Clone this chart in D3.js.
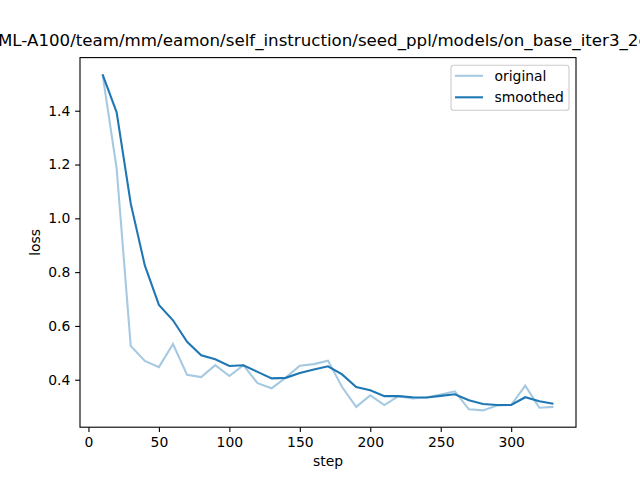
<!DOCTYPE html>
<html><head><meta charset="utf-8">
<script src="https://cdn.jsdelivr.net/npm/d3@7"></script>
<style>body{margin:0;background:#fff}svg{display:block;font-family:"DejaVu Sans",sans-serif}</style>
</head><body>
<svg id="c" width="640" height="480"></svg>
<script>
const steps = [10,20,30,40,50,60,70,80,90,100,110,120,130,140,150,160,170,180,190,200,210,220,230,240,250,260,270,280,290,300,310,320,330];
const original = [1.535,1.186,0.526,0.470,0.447,0.533,0.418,0.410,0.454,0.414,0.454,0.387,0.368,0.408,0.452,0.458,0.471,0.373,0.299,0.342,0.306,0.339,0.330,0.334,0.345,0.357,0.290,0.286,0.304,0.306,0.378,0.296,0.299];
const smoothed = [1.535,1.394,1.055,0.825,0.678,0.621,0.541,0.491,0.476,0.451,0.454,0.429,0.405,0.407,0.425,0.438,0.450,0.420,0.373,0.361,0.339,0.339,0.335,0.334,0.340,0.346,0.324,0.310,0.306,0.306,0.335,0.320,0.311];
const xTicks = [0,50,100,150,200,250,300];
const yTicks = [0.4,0.6,0.8,1.0,1.2,1.4];
const title = "ML-A100/team/mm/eamon/self_instruction/seed_ppl/models/on_base_iter3_2e-5";

const svg = d3.select("#c");
const L=80, R=576, T=57.6, B=427.2;
const xmin=d3.min(steps), xmax=d3.max(steps), xm=(xmax-xmin)*0.05;
const all=original.concat(smoothed);
const ymin=d3.min(all), ymax=d3.max(all), ym=(ymax-ymin)*0.05;
const x=d3.scaleLinear().domain([xmin-xm,xmax+xm]).range([L,R]);
const y=d3.scaleLinear().domain([ymin-ym,ymax+ym]).range([B,T]);

const fs=13.9;
const xa=svg.append("g").attr("transform",`translate(0,${B})`)
  .call(d3.axisBottom(x).tickValues(xTicks).tickFormat(d3.format("d")).tickSizeInner(4.86).tickSizeOuter(0).tickPadding(4.86));
const ya=svg.append("g").attr("transform",`translate(${L},0)`)
  .call(d3.axisLeft(y).tickValues(yTicks).tickFormat(d3.format(".1f")).tickSizeInner(4.86).tickSizeOuter(0).tickPadding(4.86));
[xa,ya].forEach(a=>{
  a.select(".domain").remove();
  a.selectAll(".tick line").attr("stroke","#000").attr("stroke-width",1.1);
  a.selectAll(".tick text").attr("fill","#000").style("font-size",fs+"px").style("font-family","DejaVu Sans");
});

const line=(vals)=>d3.line().x((d,i)=>x(steps[i])).y(d=>y(d))(vals);
const clip=svg.append("clipPath").attr("id","cp").append("rect").attr("x",L).attr("y",T).attr("width",R-L).attr("height",B-T);
svg.append("path").attr("d",line(original)).attr("fill","none").attr("stroke","#1f77b4").attr("stroke-opacity",0.4).attr("stroke-width",2.08).attr("clip-path","url(#cp)");
svg.append("path").attr("d",line(smoothed)).attr("fill","none").attr("stroke","#1f77b4").attr("stroke-width",2.08).attr("clip-path","url(#cp)");

svg.append("rect").attr("x",L).attr("y",T).attr("width",R-L).attr("height",B-T).attr("fill","none").attr("stroke","#000").attr("stroke-width",1.1);

svg.append("text").attr("x",(L+R)/2).attr("y",466).attr("text-anchor","middle").style("font-size",fs+"px").text("step");
svg.append("text").attr("transform",`translate(40,${(T+B)/2}) rotate(-90)`).attr("text-anchor","middle").style("font-size",fs+"px").text("loss");
svg.append("text").attr("x",-2).attr("y",45.5).attr("text-anchor","start").style("font-size","16.67px").text(title);

// legend
const lg=svg.append("g");
lg.append("rect").attr("x",451).attr("y",65.3).attr("width",118).attr("height",45).attr("rx",2.8).attr("fill","#fff").attr("fill-opacity",0.8).attr("stroke","#cccccc").attr("stroke-width",1.1);
const items=[{name:"original",op:0.4},{name:"smoothed",op:1}];
items.forEach((it,i)=>{
  const yy=75.8+i*21.5;
  lg.append("line").attr("x1",455).attr("x2",483).attr("y1",yy).attr("y2",yy).attr("stroke","#1f77b4").attr("stroke-opacity",it.op).attr("stroke-width",2.08);
  lg.append("text").attr("x",494.5).attr("y",yy+5).style("font-size",fs+"px").text(it.name);
});
</script>
</body></html>
